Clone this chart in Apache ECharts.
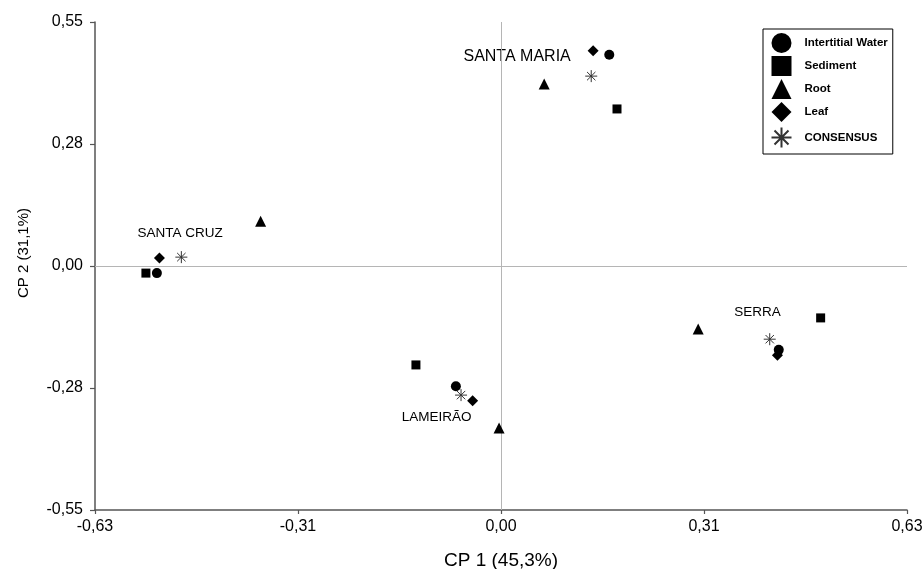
<!DOCTYPE html>
<html>
<head>
<meta charset="utf-8">
<script src="https://cdn.jsdelivr.net/npm/echarts@6/dist/echarts.min.js"></script>
<style>html,body{margin:0;padding:0;background:#fff}#c{width:923px;height:569px}</style>
</head>
<body>
<div id="c"></div>
<script>
// Sites order: SANTA MARIA, SANTA CRUZ, LAMEIRÃO, SERRA
const sites = ['SANTA MARIA', 'SANTA CRUZ', 'LAMEIRÃO', 'SERRA'];
const siteLabelPos = [[0.025, 0.473], [-0.498, 0.074], [-0.100, -0.340], [0.398, -0.104]];

const seriesNames = ['Intertitial Water', 'Sediment', 'Root', 'Leaf', 'CONSENSUS'];
const interstitialWater = [[0.168, 0.476], [-0.534, -0.016], [-0.070, -0.271], [0.431, -0.189]];
const sediment = [[0.180, 0.354], [-0.551, -0.016], [-0.132, -0.223], [0.496, -0.117]];
const root = [[0.067, 0.410], [-0.373, 0.101], [-0.003, -0.365], [0.306, -0.142]];
const leaf = [[0.143, 0.485], [-0.530, 0.018], [-0.044, -0.304], [0.429, -0.201]];
const consensus = [[0.140, 0.428], [-0.496, 0.020], [-0.062, -0.291], [0.417, -0.165]];

const xTickLabels = ['-0,63', '-0,31', '0,00', '0,31', '0,63'];
const yTickLabels = ['-0,55', '-0,28', '0,00', '0,28', '0,55'];

const FONT = 'Liberation Sans, Arial, sans-serif';
const starPath = 'path://M0,5L10,5M5,0L5,10M1.5,1.5L8.5,8.5M8.5,1.5L1.5,8.5';

const chart = echarts.init(document.getElementById('c'), null, {renderer: 'canvas'});

function pointSeries(name, data, symbol, size, extra) {
  return Object.assign({
    name: name,
    type: 'scatter',
    data: data,
    symbol: symbol,
    symbolSize: size,
    itemStyle: {color: '#000', opacity: 1},
    silent: true,
    z: 5
  }, extra || {});
}

const option = {
  animation: false,
  backgroundColor: '#fff',
  grid: {left: 95, right: 16, top: 22, bottom: 59, outerBoundsMode: 'none', containLabel: false},
  xAxis: {
    type: 'value', min: -0.63, max: 0.63, interval: 0.315,
    name: 'CP 1 (45,3%)', nameLocation: 'middle', nameGap: 41,
    nameTextStyle: {fontFamily: FONT, fontSize: 19, color: '#000'},
    axisLine: {onZero: false, lineStyle: {color: '#555', width: 1.5}},
    axisTick: {show: true, length: 4, lineStyle: {color: '#555', width: 1.2}},
    axisLabel: {margin: 9, fontFamily: FONT, fontSize: 16, color: '#000',
      formatter: (v, i) => xTickLabels[i]},
    splitLine: {show: false}
  },
  yAxis: {
    type: 'value', min: -0.55, max: 0.55, interval: 0.275,
    name: 'CP 2 (31,1%)', nameLocation: 'middle', nameGap: 64, nameRotate: 90,
    nameTextStyle: {fontFamily: FONT, fontSize: 15, color: '#000', padding: [0, 0, 0, 26]},
    axisLine: {onZero: false, lineStyle: {color: '#555', width: 1.5}},
    axisTick: {show: true, length: 5, lineStyle: {color: '#555', width: 1.2}},
    axisLabel: {margin: 12, fontFamily: FONT, fontSize: 16, color: '#000',
      formatter: (v, i) => yTickLabels[i]},
    splitLine: {show: false}
  },
  legend: {
    data: seriesNames,
    orient: 'vertical',
    left: 763, top: 29,
    padding: [4, 5, 4, 6],
    itemWidth: 20, itemHeight: 20, itemGap: 3,
    borderColor: '#000', borderWidth: 1,
    selectedMode: false,
    textStyle: {fontFamily: FONT, fontSize: 11.5, fontWeight: 'bold', color: '#000', padding: [0, 0, 0, 8]}
  },
  series: [
    pointSeries('Intertitial Water', interstitialWater, 'circle', 10),
    pointSeries('Sediment', sediment, 'rect', 9),
    pointSeries('Root', root, 'triangle', 11),
    pointSeries('Leaf', leaf, 'diamond', 11),
    pointSeries('CONSENSUS', consensus, starPath, 12, {
      itemStyle: {color: 'none', borderColor: '#333', borderWidth: 1, opacity: 1}
    }),
    {
      name: 'sites',
      type: 'scatter',
      symbolSize: 0,
      silent: true,
      itemStyle: {opacity: 1},
      data: siteLabelPos.map((p, i) => ({
        value: p,
        label: {show: true, position: 'inside', formatter: sites[i], opacity: 1,
          fontFamily: FONT, fontSize: i === 0 ? 16 : 13.5, color: '#000'}
      })),
      markLine: {
        silent: true, symbol: 'none', animation: false,
        label: {show: false},
        lineStyle: {color: '#b5b5b5', width: 1, type: 'solid', opacity: 1},
        data: [{xAxis: 0}, {yAxis: 0}]
      },
      z: 1
    }
  ]
};
chart.setOption(option);
</script>
</body>
</html>
